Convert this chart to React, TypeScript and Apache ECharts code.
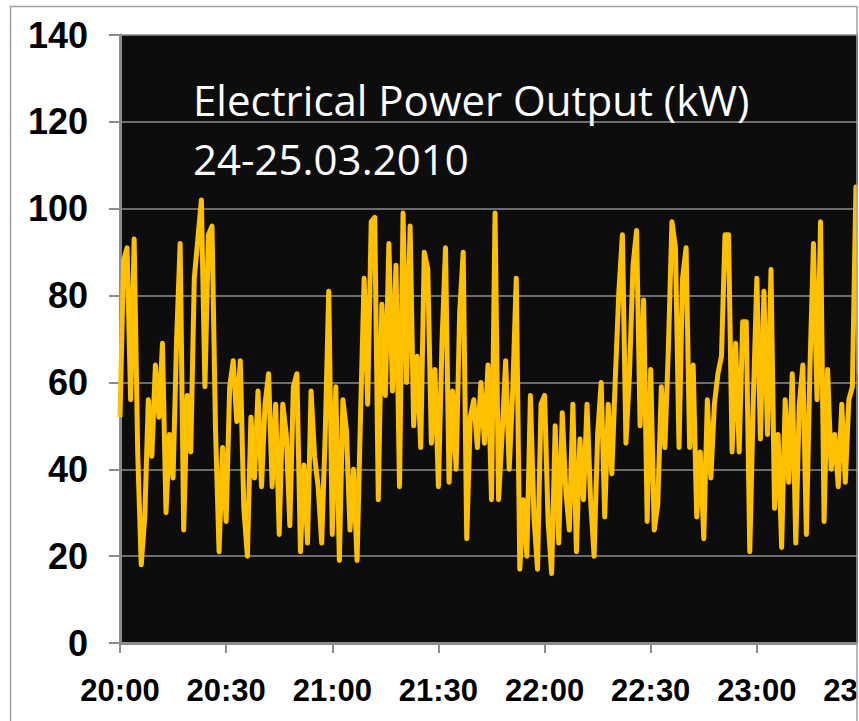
import React, { useEffect, useRef } from "react";
import * as echarts from "echarts";

// Sampling: one reading per minute starting at 20:00 (24.03.2010)
const SAMPLE_MINUTES = 1;

// Tick labels of the time axis (every 30 minutes)
const xLabels = ["20:00", "20:30", "21:00", "21:30", "22:00", "22:30", "23:00", "23:30"];
const yTicks = [0, 20, 40, 60, 80, 100, 120, 140];

const titleLine1 = "Electrical Power Output (kW)";
const titleLine2 = "24-25.03.2010";

// Electrical power output (kW)
const power20h = [
  52, 88, 91, 56, 93, 44, 18, 29, 56, 43, 64, 52, 69, 30, 48, 38, 70, 92, 26, 57,
  44, 84, 93, 102, 59, 94, 96, 49, 21, 45,
];
const power2030 = [
  28, 59, 65, 51, 65, 31, 20, 52, 38, 58, 36, 55, 62, 36, 55, 25, 55, 48, 27, 59,
  62, 21, 41, 23, 58, 43, 36, 23, 48, 81,
];
const power21h = [
  25, 59, 19, 56, 49, 26, 40, 19, 53, 84, 55, 97, 98, 33, 78, 57, 92, 58, 87, 36,
  99, 60, 96, 50, 66, 45, 90, 86, 46, 63,
];
const power2130 = [
  36, 69, 91, 37, 58, 40, 76, 90, 24, 52, 56, 45, 60, 46, 64, 33, 99, 33, 48, 65,
  40, 58, 84, 17, 33, 20, 57, 29, 17, 55,
];
const power22h = [
  57, 28, 16, 50, 23, 53, 35, 26, 55, 21, 47, 33, 55, 33, 20, 48, 60, 29, 55, 39,
  61, 81, 94, 46, 62, 87, 95, 50, 79, 28,
];
const power2230 = [
  63, 26, 32, 59, 45, 68, 97, 91, 45, 84, 91, 45, 64, 29, 44, 24, 56, 38, 55, 62,
  66, 94, 94, 44, 69, 44, 74, 74, 21, 56,
];
const power23h = [
  84, 47, 81, 48, 86, 31, 48, 22, 56, 37, 62, 23, 55, 64, 25, 63, 92, 56, 97, 28,
  63, 40, 48, 36, 55, 37, 56, 59, 105, 62,
];

const powerValues = [
  ...power20h, ...power2030, ...power21h, ...power2130, ...power22h, ...power2230, ...power23h,
];

export default function App() {
  const ref = useRef<HTMLDivElement>(null);

  useEffect(() => {
    if (!ref.current) return;
    const chart = echarts.init(ref.current, undefined, { renderer: "svg" });
    const data = powerValues.map((v, i) => [i * SAMPLE_MINUTES, v]);
    const axisGray = "#8c8c8c";

    const option: any = {
      animation: false,
      backgroundColor: "#ffffff",
      grid: {
        left: 120,
        top: 35,
        right: -5,
        bottom: 78,
        outerBoundsMode: "none",
        containLabel: false,
        show: true,
        backgroundColor: "#0d0d0d",
        borderWidth: 0,
      },
      xAxis: {
        type: "value",
        min: 0,
        max: 210,
        interval: 30,
        axisLine: { show: true, onZero: false, lineStyle: { color: axisGray, width: 3 } },
        axisTick: { show: true, length: 10, lineStyle: { color: axisGray, width: 2 } },
        splitLine: { show: false },
        axisLabel: {
          formatter: (v: number) => xLabels[Math.round(v / 30)] ?? "",
          color: "#000000",
          fontFamily: "Liberation Sans, Arial, sans-serif",
          fontWeight: "bold",
          fontSize: 31,
          margin: 32,
          showMinLabel: true,
          showMaxLabel: true,
          hideOverlap: false,
        },
      },
      yAxis: {
        type: "value",
        min: yTicks[0],
        max: yTicks[yTicks.length - 1],
        interval: 20,
        axisLine: { show: true, lineStyle: { color: axisGray, width: 3 } },
        axisTick: { show: true, length: 11, lineStyle: { color: axisGray, width: 2 } },
        splitLine: { show: true, lineStyle: { color: axisGray, width: 1.5 } },
        axisLabel: {
          color: "#000000",
          fontFamily: "Liberation Sans, Arial, sans-serif",
          fontWeight: "bold",
          fontSize: 36,
          margin: 32,
        },
      },
      series: [
        {
          type: "line",
          data,
          showSymbol: false,
          symbol: "none",
          clip: true,
          lineStyle: { color: "#FFC000", width: 5, join: "round" },
          z: 3,
        },
      ],
      graphic: [
        {
          type: "text",
          left: 193,
          top: 78,
          z: 10,
          style: {
            text: titleLine1,
            fill: "#ffffff",
            font: '42px "Open Sans", sans-serif',
          },
        },
        {
          type: "text",
          left: 193,
          top: 137,
          z: 10,
          style: {
            text: titleLine2,
            fill: "#ffffff",
            font: '42px "Open Sans", sans-serif',
          },
        },
        {
          type: "rect",
          z: 20,
          shape: { x: 10.5, y: 6.5, width: 846.5, height: 730 },
          style: { fill: "none", stroke: "#a0a0a0", lineWidth: 1.5 },
        },
      ],
    };

    chart.setOption(option);
    return () => chart.dispose();
  }, []);

  return (
    <div
      style={{
        position: "fixed",
        left: 0,
        top: 0,
        width: 859,
        height: 721,
        background: "#ffffff",
        overflow: "hidden",
      }}
    >
      <div ref={ref} style={{ width: 858, height: 721, overflow: "hidden" }} />
    </div>
  );
}
